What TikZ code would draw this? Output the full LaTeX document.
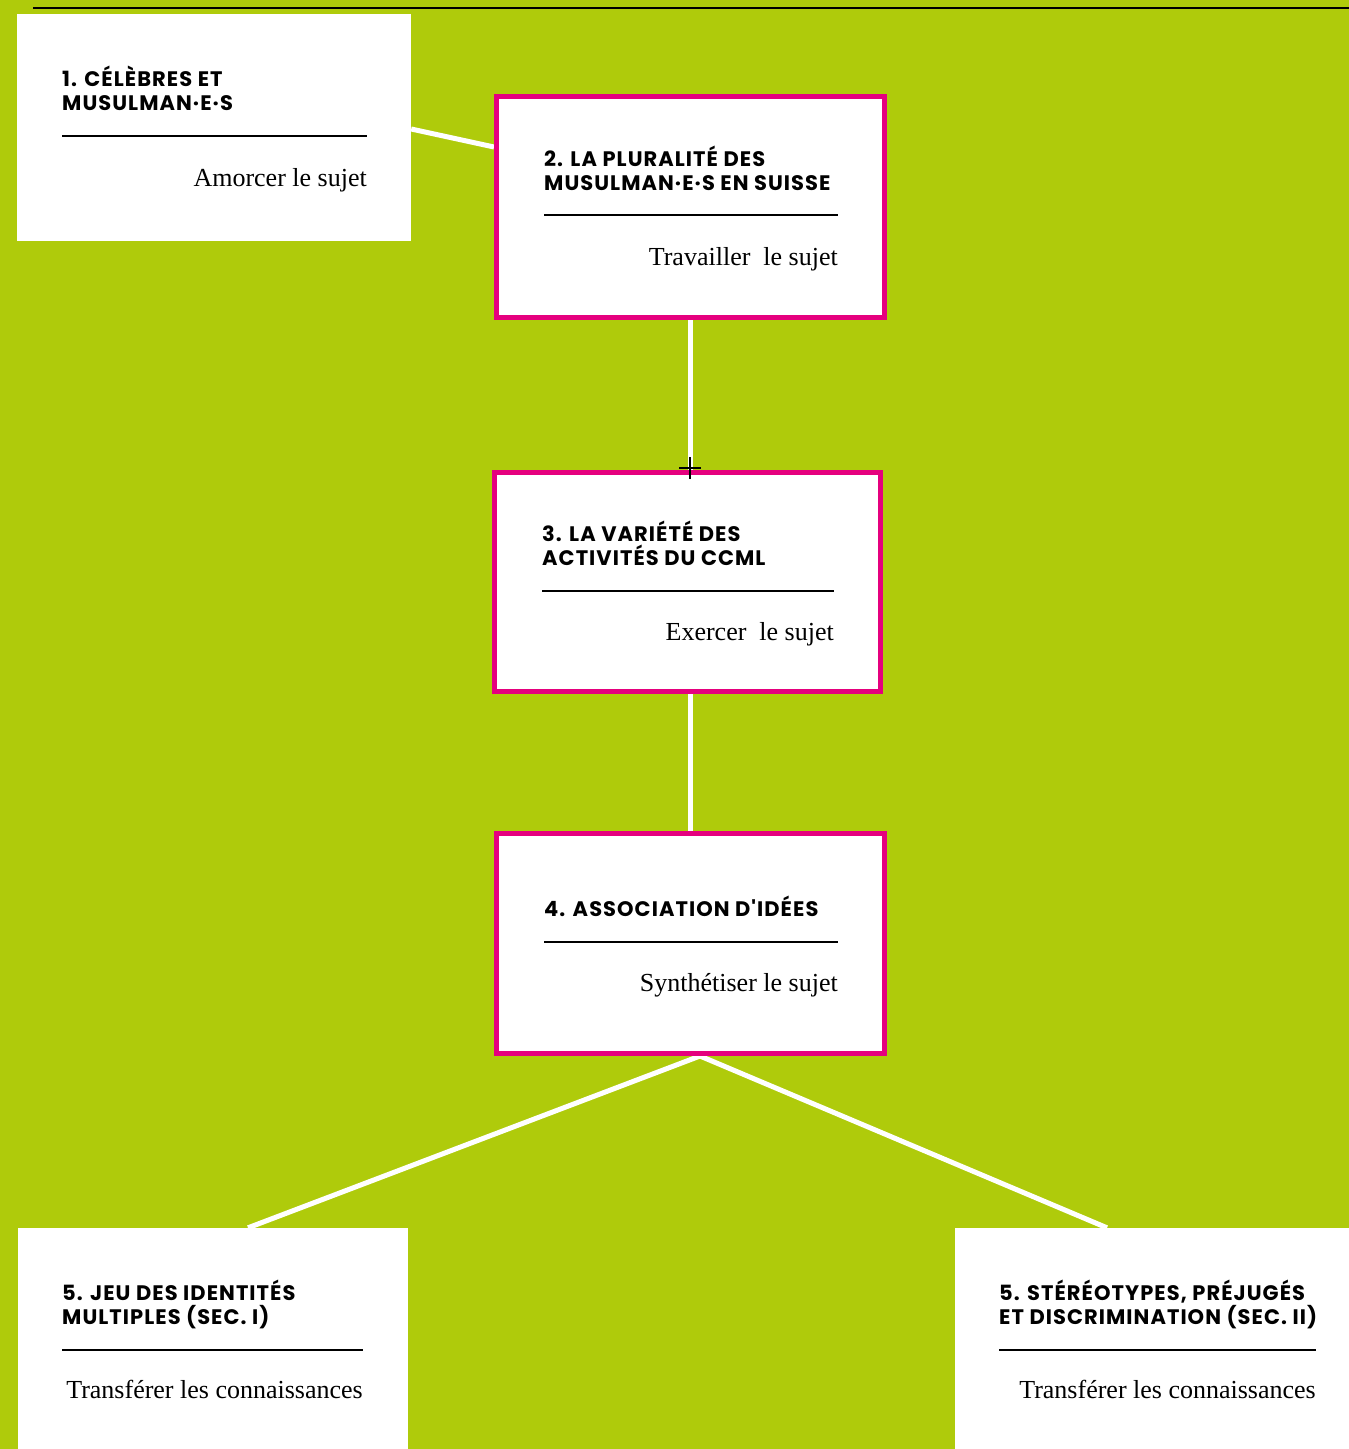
\documentclass[tikz,border=0pt]{standalone}
\usepackage{fontspec}
\setmainfont{Liberation Serif}
\newfontfamily\headfont{Poppins}[LetterSpace=5]
\usetikzlibrary{backgrounds}
\definecolor{leaf}{HTML}{AFCB0B}
\definecolor{magent}{HTML}{E5007E}
\begin{document}
\begin{tikzpicture}[x=1pt,y=-1pt,
  plainbox/.style={fill=white,draw=none,inner sep=0pt,minimum width=#1},
  pinkbox/.style={fill=white,draw=magent,line width=5pt,inner sep=0pt,minimum width=#1},
  head/.style={anchor=base west,inner sep=0pt,font=\headfont\bfseries\fontsize{21}{24}\selectfont},
  sub/.style={anchor=base east,inner sep=0pt,font=\fontsize{26}{30}\selectfont},
  rulebar/.style={line width=2pt,black},
  link/.style={draw=white,line width=5pt}]
\useasboundingbox (0,0) rectangle (1349,1449);
\begin{scope}[on background layer]
\fill[leaf] (0,0) rectangle (1349,1449);
\end{scope}
\coordinate (tl) at (33,8);
\coordinate (tr) at (1349,8);
\draw[line width=2pt,black] (tl) -- (tr);

% boxes
\node[plainbox=394pt,minimum height=227pt] (b1) at (214,127.5) {};
\node[pinkbox=388pt,minimum height=221pt] (b2) at (690.5,207) {};
\node[pinkbox=386pt,minimum height=219pt] (b3) at (687.5,582) {};
\node[pinkbox=388pt,minimum height=220pt] (b4) at (690.5,943.5) {};
\node[plainbox=390pt,minimum height=221pt] (b5) at (213,1338.5) {};
\node[plainbox=394pt,minimum height=221pt] (b6) at (1152,1338.5) {};

% connectors
\begin{scope}[on background layer]
\draw[link] ([yshift=-1.5pt]b1.east) -- ([yshift=60pt]b2.west);
\draw[link] (b2.south) -- (b2.south |- b3.north);
\draw[link] (b3.south -| b2.south) -- (b4.north);
\draw[link] ([xshift=9.5pt]b4.south) -- ([xshift=35pt]b5.north);
\draw[link] ([xshift=9.5pt]b4.south) -- ([xshift=-45pt]b6.north);
\end{scope}

% box 1
\node[head] (t1a) at (62,86) {1. CÉLÈBRES ET};
\node[head] (t1b) at (62,110) {MUSULMAN·E·S};
\coordinate (r1l) at (62,136); \coordinate (r1r) at (367,136);
\draw[rulebar] (r1l) -- (r1r);
\node[sub] (s1) at (367,186) {Amorcer le sujet};

% box 2
\node[head] (t2a) at (544,166) {2. LA PLURALITÉ DES};
\node[head] (t2b) at (544,190) {MUSULMAN·E·S EN SUISSE};
\coordinate (r2l) at (544,215); \coordinate (r2r) at (838,215);
\draw[rulebar] (r2l) -- (r2r);
\node[sub] (s2) at (838,265) {Travailler\ \ le sujet};

% box 3
\node[head] (t3a) at (542,541) {3. LA VARIÉTÉ DES};
\node[head] (t3b) at (542,565) {ACTIVITÉS DU CCML};
\coordinate (r3l) at (542,591); \coordinate (r3r) at (834,591);
\draw[rulebar] (r3l) -- (r3r);
\node[sub] (s3) at (834,640) {Exercer\ \ le sujet};

% box 4
\node[head] (t4a) at (544,916) {4. ASSOCIATION D'IDÉES};
\coordinate (r4l) at (544,942); \coordinate (r4r) at (838,942);
\draw[rulebar] (r4l) -- (r4r);
\node[sub] (s4) at (838,991) {Synthétiser le sujet};

% box 5
\node[head] (t5a) at (62,1300) {5. JEU DES IDENTITÉS};
\node[head] (t5b) at (62,1324) {MULTIPLES (SEC. I)};
\coordinate (r5l) at (62,1350); \coordinate (r5r) at (363,1350);
\draw[rulebar] (r5l) -- (r5r);
\node[sub] (s5) at (363,1398) {Transférer les connaissances};

% box 6
\node[head] (t6a) at (999,1300) {5. STÉRÉOTYPES, PRÉJUGÉS};
\node[head] (t6b) at (999,1324) {ET DISCRIMINATION (SEC. II)};
\coordinate (r6l) at (999,1350); \coordinate (r6r) at (1316,1350);
\draw[rulebar] (r6l) -- (r6r);
\node[sub] (s6) at (1316,1398) {Transférer les connaissances};

% small cross mark
\coordinate (cx) at (690,468);
\draw[line width=1.5pt,black] ([xshift=-11pt]cx) -- ([xshift=11pt]cx);
\draw[line width=1.5pt,black] ([yshift=11pt]cx) -- ([yshift=-11pt]cx);
\end{tikzpicture}
\end{document}
